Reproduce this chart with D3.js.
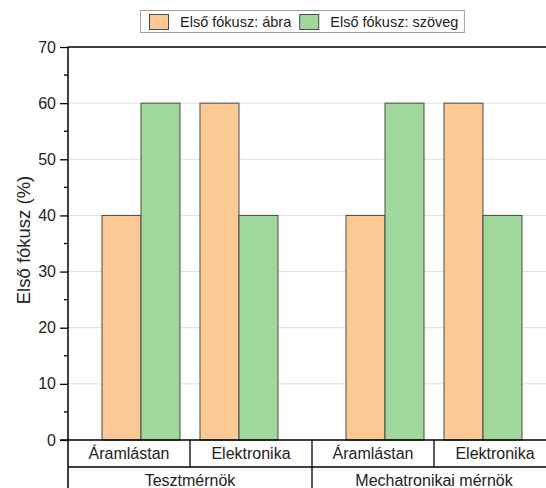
<!DOCTYPE html>
<html><head><meta charset="utf-8">
<script src="https://cdn.jsdelivr.net/npm/d3@7"></script>
<style>body{margin:0;background:#fff}svg{display:block;font-family:Arial,"Liberation Sans",sans-serif}</style>
</head><body><svg id="c" width="546" height="488"></svg>
<script>
const groups = ["Tesztmérnök", "Mechatronikai mérnök"];
const subcats = ["Áramlástan", "Elektronika"];
const seriesNames = ["Első fókusz: ábra", "Első fókusz: szöveg"];
const abraValues = [40, 60, 40, 60];
const szovegValues = [60, 40, 60, 40];
const yTickValues = [0, 10, 20, 30, 40, 50, 60, 70];
const yTitle = "Első fókusz (%)";
const colors = ["#FCC894", "#A0D89C"];

const svg = d3.select("#c");
const L = 68, R = 556, T = 47, B = 440, rowH = 27;

const y = d3.scaleLinear().domain([0, 70]).range([B, T]);
const xg = d3.scaleBand().domain(groups).range([L, R]);
const xs = d3.scaleBand().domain(subcats).range([0, xg.bandwidth()]).paddingInner(0.204).paddingOuter(0.347);
const xser = d3.scaleBand().domain(seriesNames).range([0, xs.bandwidth()]);

const data = [];
groups.forEach((g, gi) => subcats.forEach((s, si) => {
  const i = gi * subcats.length + si;
  data.push({g, s, k: seriesNames[0], v: abraValues[i], c: colors[0]});
  data.push({g, s, k: seriesNames[1], v: szovegValues[i], c: colors[1]});
}));

// gridlines
svg.append("g").selectAll("line").data(yTickValues.filter(d => d > 0 && d < 70)).join("line")
  .attr("x1", L).attr("x2", R).attr("y1", d => y(d)).attr("y2", d => y(d))
  .attr("stroke", "#dedede").attr("stroke-width", 1);

// bars
svg.append("g").selectAll("rect").data(data).join("rect")
  .attr("x", d => xg(d.g) + xs(d.s) + xser(d.k))
  .attr("y", d => y(d.v))
  .attr("width", xser.bandwidth())
  .attr("height", d => y(0) - y(d.v))
  .attr("fill", d => d.c)
  .attr("stroke", "#4a4a4a").attr("stroke-width", 1);

// y axis
const yAxis = d3.axisLeft(y).tickValues(yTickValues).tickSize(8).tickPadding(4).tickFormat(d3.format("d"));
const ya = svg.append("g").attr("transform", `translate(${L},0)`).call(yAxis);
ya.select(".domain").remove();
ya.selectAll("line").attr("stroke", "#000").attr("stroke-width", 1.3);
ya.selectAll("text").attr("font-size", 16).attr("fill", "#222").attr("font-family", "Arial, 'Liberation Sans', sans-serif");
// minor ticks
const minor = d3.range(5, 70, 10);
svg.append("g").selectAll("line").data(minor).join("line")
  .attr("x1", L - 4).attr("x2", L).attr("y1", d => y(d)).attr("y2", d => y(d))
  .attr("stroke", "#000").attr("stroke-width", 1.3);

// frame lines
svg.append("line").attr("x1", L).attr("x2", L).attr("y1", T).attr("y2", 488).attr("stroke", "#000").attr("stroke-width", 1.5);
svg.append("line").attr("x1", L).attr("x2", R).attr("y1", T).attr("y2", T).attr("stroke", "#000").attr("stroke-width", 1.5);
svg.append("line").attr("x1", L - 8).attr("x2", R).attr("y1", B).attr("y2", B).attr("stroke", "#000").attr("stroke-width", 1.5);
svg.append("line").attr("x1", L).attr("x2", R).attr("y1", B + rowH).attr("y2", B + rowH).attr("stroke", "#000").attr("stroke-width", 1.3);

// table: sub category row
const cells = [];
groups.forEach(g => subcats.forEach((s, si) => {
  const half = xg.bandwidth() / subcats.length;
  cells.push({g, s, x0: xg(g) + si * half, x1: xg(g) + (si + 1) * half});
}));
svg.append("g").selectAll("line").data(cells).join("line")
  .attr("x1", d => d.x1).attr("x2", d => d.x1).attr("y1", B).attr("y2", B + rowH)
  .attr("stroke", "#000").attr("stroke-width", 1.3);
svg.append("g").selectAll("text").data(cells).join("text")
  .attr("x", d => (d.x0 + d.x1) / 2).attr("y", B + 19)
  .attr("text-anchor", "middle").attr("font-size", 16).attr("fill", "#222").text(d => d.s);
// group row
svg.append("g").selectAll("line").data(groups).join("line")
  .attr("x1", d => xg(d) + xg.bandwidth()).attr("x2", d => xg(d) + xg.bandwidth())
  .attr("y1", B + rowH).attr("y2", 488).attr("stroke", "#000").attr("stroke-width", 1.3);
svg.append("g").selectAll("text").data(groups).join("text")
  .attr("x", d => xg(d) + xg.bandwidth() / 2).attr("y", B + rowH + 19)
  .attr("text-anchor", "middle").attr("font-size", 16).attr("fill", "#222").text(d => d);

// y title
svg.append("text").attr("transform", "translate(30,240) rotate(-90)")
  .attr("text-anchor", "middle").attr("font-size", 18.5).attr("fill", "#222").text(yTitle);

// legend
const lg = svg.append("g");
const box = lg.append("rect").attr("x", 140.5).attr("y", 10.5).attr("height", 22)
  .attr("fill", "#fff").attr("stroke", "#a0a0a0").attr("stroke-width", 1);
let lx = 149, lastEnd = 0;
seriesNames.forEach((n, i) => {
  lg.append("rect").attr("x", lx + 0.5).attr("y", 14.5).attr("width", 19).attr("height", 15)
    .attr("fill", colors[i]).attr("stroke", "#4a4a4a").attr("stroke-width", 1);
  const t = lg.append("text").attr("x", lx + 31).attr("y", 27).attr("font-size", 14.5).attr("fill", "#222").text(n);
  lastEnd = lx + 31 + t.node().getComputedTextLength();
  lx = lastEnd + 8;
});
box.attr("width", lastEnd + 6 - 140.5);
</script></body></html>
